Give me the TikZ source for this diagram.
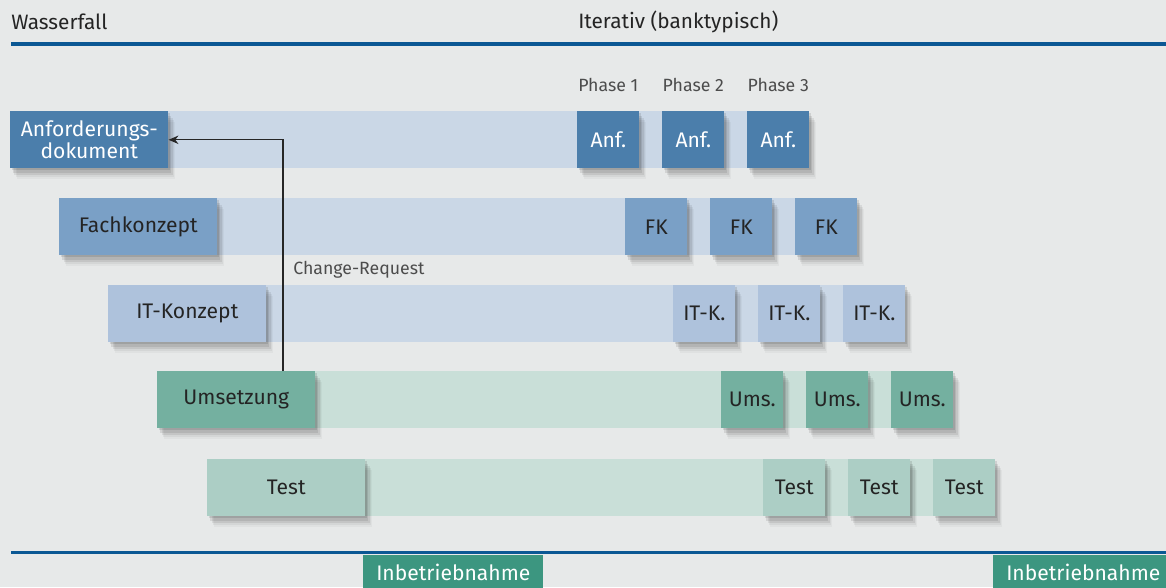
\documentclass[tikz,border=0pt]{standalone}
\usepackage{fontspec}
\setmainfont{Fira Sans}
\usepackage{tikz}
\usetikzlibrary{arrows.meta,shadows,positioning}

\definecolor{bgGray}{HTML}{E7E9E9}
\definecolor{ruleBlue}{HTML}{0B5894}
\definecolor{anfBlue}{HTML}{4B7EAB}
\definecolor{fkBlue}{HTML}{7AA0C6}
\definecolor{itBlue}{HTML}{AEC2DC}
\definecolor{barBlue}{HTML}{CAD7E6}
\definecolor{umsGreen}{HTML}{74B0A0}
\definecolor{testGreen}{HTML}{ACCEC5}
\definecolor{barGreen}{HTML}{C9DFD8}
\definecolor{ibnGreen}{HTML}{3C9680}
\definecolor{textDark}{HTML}{242424}

\tikzset{
  heading/.style={anchor=west, inner sep=0pt, text=textDark, font=\fontsize{14.8}{17}\selectfont},
  small/.style={inner sep=0pt, text=black!70, font=\fontsize{12.6}{14}\selectfont},
  % soft shadow, built from a few stacked offset copies
  boxshadow/.style={
    general shadow={fill=black, opacity=0.10, shadow xshift=1pt, shadow yshift=-1.5pt},
    general shadow={fill=black, opacity=0.09, shadow xshift=2pt, shadow yshift=-3pt},
    general shadow={fill=black, opacity=0.07, shadow xshift=3pt, shadow yshift=-4.5pt},
    general shadow={fill=black, opacity=0.05, shadow xshift=4pt, shadow yshift=-6pt},
    general shadow={fill=black, opacity=0.03, shadow xshift=5pt, shadow yshift=-7.5pt}},
  wfbox/.style={anchor=north west, minimum width=3.95cm, minimum height=1.425cm,
      inner sep=0pt, align=center, text=textDark, boxshadow,
      font=\fontsize{15}{15.5}\selectfont},
  phbox/.style={anchor=north west, minimum width=1.55cm, minimum height=1.425cm,
      inner sep=0pt, text=textDark, boxshadow, font=\fontsize{15}{17}\selectfont},
  ibnbox/.style={anchor=north west, minimum width=4.5cm, minimum height=0.85cm,
      inner sep=0pt, fill=ibnGreen, text=white, font=\fontsize{15}{17}\selectfont},
  rule/.style={ruleBlue, line width=2.2pt},
  crarrow/.style={black!85, line width=0.9pt, -{Stealth[length=7pt,width=6pt]}}
}

\begin{document}
\begin{tikzpicture}[x=0.025cm,y=-0.025cm]
\fill[bgGray] (0,0) rectangle (1166,587);
\useasboundingbox (0,0) rectangle (1166,587);

% headings and rules
\node[heading] (wf) at (11,22) {Wasserfall};
\node[heading] (iter) at (578,22) {Iterativ (banktypisch)};
\draw[rule] (11,44) -- (1166,44);
\draw[rule] (11,552.5) -- (1166,552.5);

% bars behind the boxes
\fill[barBlue] (168,111) rectangle (752,168);
\fill[barBlue] (217,198) rectangle (800,255);
\fill[barBlue] (266,285) rectangle (848,342);
\fill[barGreen] (315,371) rectangle (896,428);
\fill[barGreen] (365,459) rectangle (938,516);

% waterfall
\node[wfbox, fill=anfBlue, text=white] (anf) at (10,111) {Anforderungs-\\dokument};
\node[wfbox, fill=fkBlue] (fk) at (59,198) {Fachkonzept};
\node[wfbox, fill=itBlue] (itk) at (108,285) {IT-Konzept};
\node[wfbox, fill=umsGreen] (ums) at (157,371) {Umsetzung};
\node[wfbox, fill=testGreen] (test) at (207,459) {Test};

% iterative phases
\foreach \i in {1,2,3} {
  \pgfmathsetmacro\dx{(\i-1)*85}
  \node[phbox, fill=anfBlue, text=white] (anf\i) at (577+\dx,111) {Anf.};
  \node[small, above=0.47cm of anf\i] (ph\i) {Phase \i};
  \node[phbox, fill=fkBlue] (fk\i) at (625+\dx,198) {FK};
  \node[phbox, fill=itBlue] (itk\i) at (673+\dx,285) {IT-K.};
  \node[phbox, fill=umsGreen] (ums\i) at (721+\dx,371) {Ums.};
  \node[phbox, fill=testGreen] (test\i) at (763+\dx,459) {Test};
}

% change request back to the requirements
\coordinate (crx) at (283,0);
\draw[crarrow] (ums.north -| crx) |- (anf.east);
\node[small, anchor=west] (cr) at (293,270) {Change-Request};

% go-live
\node[ibnbox] (ibn1) at (363,555) {Inbetriebnahme};
\node[ibnbox] (ibn2) at (993,555) {Inbetriebnahme};
\end{tikzpicture}
\end{document}
